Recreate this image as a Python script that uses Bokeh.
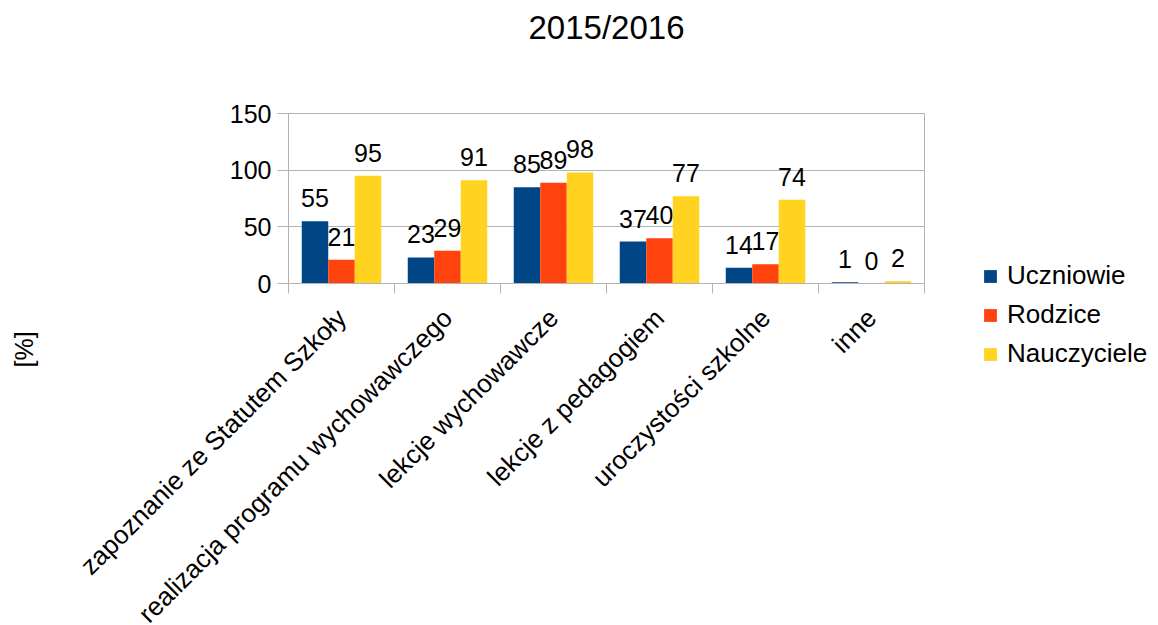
import math
from bokeh.plotting import figure
from bokeh.models import (ColumnDataSource, Range1d, FixedTicker, Legend,
                          LegendItem, Title)
from bokeh.transform import dodge
from bokeh.core.properties import value
from bokeh.embed import file_html
from bokeh.resources import INLINE

title_text = "2015/2016"
y_label = "[%]"
categories = ["zapoznanie ze Statutem Szkoły",
              "realizacja programu wychowawczego",
              "lekcje wychowawcze",
              "lekcje z pedagogiem",
              "uroczystości szkolne",
              "inne"]
series_names = ["Uczniowie", "Rodzice", "Nauczyciele"]
uczniowie = [55, 23, 85, 37, 14, 1]
rodzice = [21, 29, 89, 40, 17, 0]
nauczyciele = [95, 91, 98, 77, 74, 2]
y_ticks = [0, 50, 100, 150]
colors = ["#004586", "#ff420e", "#ffd320"]

FONT = "Liberation Sans"
GRAY = "#b3b3b3"

centers = [float(i) + 0.5 for i in range(len(categories))]
src = ColumnDataSource(dict(
    x=centers,
    Uczniowie=uczniowie, Rodzice=rodzice, Nauczyciele=nauczyciele,
    Uczniowie_t=[str(v) for v in uczniowie],
    Rodzice_t=[str(v) for v in rodzice],
    Nauczyciele_t=[str(v) for v in nauczyciele],
))

p = figure(frame_width=636, frame_height=170,
           min_border_left=288, min_border_top=113,
           min_border_right=226, min_border_bottom=330,
           x_range=Range1d(0, len(categories)), y_range=Range1d(0, 150),
           output_backend="svg", toolbar_location=None, tools="")
p.title.text = title_text
p.title.align = "center"
p.title.offset = -39
p.title.standoff = 6
p.title.text_font = FONT
p.title.text_font_size = "33px"
p.title.text_font_style = "normal"
p.title.text_color = "black"

p.outline_line_color = GRAY
p.background_fill_color = "white"
p.border_fill_color = "white"
p.xgrid.grid_line_color = None
p.ygrid.grid_line_color = GRAY
p.ygrid.ticker = FixedTicker(ticks=y_ticks)

xax = p.below[0]
yax = p.left[0]

# y axis
yax.ticker = FixedTicker(ticks=y_ticks, minor_ticks=[])
yax.axis_line_color = GRAY
yax.major_tick_line_color = GRAY
yax.major_tick_out = 11
yax.major_tick_in = 0
yax.minor_tick_line_color = None
yax.major_label_text_font = FONT
yax.major_label_text_font_size = "25px"
yax.major_label_text_color = "black"
yax.major_label_standoff = 6

# x axis
xax.ticker = FixedTicker(ticks=centers,
                         minor_ticks=[float(i) for i in range(len(categories) + 1)])
xax.major_label_overrides = {c: lab for c, lab in zip(centers, categories)}
xax.axis_line_color = GRAY
xax.major_tick_line_color = None
xax.minor_tick_line_color = GRAY
xax.minor_tick_out = 10
xax.minor_tick_in = 0
xax.major_label_orientation = math.pi / 4
xax.major_label_text_font = FONT
xax.major_label_text_font_size = "26px"
xax.major_label_text_color = "black"
xax.major_label_standoff = 20


def spacer(size):
    return Title(text=" ", standoff=size, text_font=FONT, text_font_size="1px",
                 text_color="white")


# blank spacers that move the title and the y label outward
p.add_layout(spacer(62), "above")
p.add_layout(spacer(178), "left")
p.add_layout(Title(text=y_label, align="left", offset=-84, standoff=15,
                   text_font=FONT, text_font_size="25px",
                   text_font_style="normal", text_color="black"), "left")

offsets = [-0.25, 0.0, 0.25]
items = []
for name, col, off in zip(series_names, colors, offsets):
    r = p.vbar(x=dodge("x", off, range=p.x_range), top=name, bottom=0, width=0.25,
               source=src, fill_color=col, line_color=None)
    p.text(x=dodge("x", off, range=p.x_range), y=name, text=name + "_t", source=src,
           text_font=value(FONT), text_font_size="25px", text_color="black",
           text_align="center", text_baseline="alphabetic", y_offset=-23)
    items.append(LegendItem(label=name, renderers=[r]))

legend = Legend(items=items, location=(58, -86), orientation="vertical",
                glyph_width=16, glyph_height=16, label_standoff=9,
                label_text_font=FONT, label_text_font_size="26px",
                label_text_color="black", label_height=28, spacing=8,
                padding=0, margin=0, border_line_color=None,
                background_fill_alpha=0)
p.add_layout(legend, "right")

open("out.html", "w").write(file_html(p, INLINE))
